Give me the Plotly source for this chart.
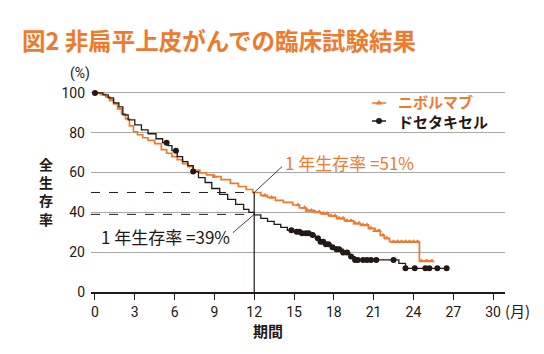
import numpy as np
import plotly.graph_objects as go

# ---- data ----
title_text = "図2 非扁平上皮がんでの臨床試験結果"
series_names = ["ニボルマブ", "ドセタキセル"]
x_ticks = [0, 3, 6, 9, 12, 15, 18, 21, 24, 27, 30]
y_ticks = [0, 20, 40, 60, 80, 100]

niv_time = [0, 0.4, 0.8, 1.1, 1.4, 1.7, 2.0, 2.3, 2.6, 2.9, 3.2, 3.6, 4.0, 4.5, 5.0, 5.4, 5.8,
            6.2, 6.6, 7.0, 7.4, 7.9, 8.4, 8.9, 9.5, 10.2, 10.8, 11.4, 11.9, 12.5, 13.0, 13.6,
            14.2, 14.9, 15.4, 15.9, 16.5, 17.0, 17.6, 18.2, 18.8, 19.5, 20.0, 20.6, 21.1, 21.5,
            21.8, 22.2, 24.45, 25.5]
niv_surv = [100, 99.3, 98, 96.5, 94.5, 92, 89.5, 87, 83.5, 80.5, 79, 77.5, 76.2, 74.5, 71.5, 69.7, 68,
            66.5, 64.5, 63, 61.3, 59.8, 58.8, 58, 56.5, 54.6, 53, 51.5, 50, 48.5, 47.5, 46,
            45, 43.7, 42.3, 41, 40.2, 39.5, 38.3, 37, 35.8, 34.5, 33.7, 32, 30.8, 28.5,
            27, 25.3, 15.6, 15.6]
niv_censor = [1.2, 9.0, 12.8, 13.3, 15.3, 15.8, 16.0, 16.3, 16.6, 16.9, 17.2, 17.5, 17.8, 18.1,
              18.4, 18.7, 19.0, 19.3, 19.6, 19.9, 20.2, 20.5, 20.8, 21.1, 21.4, 21.7, 22.0, 22.5,
              22.8, 23.1, 23.4, 23.7, 24.0, 24.3, 24.6, 25.0, 25.4]

doc_time = [0, 0.6, 1.0, 1.4, 1.8, 2.1, 2.5, 3.0, 3.5, 4.0, 4.6, 5.1, 5.5, 5.8, 6.2, 6.6, 7.0,
            7.4, 7.8, 8.3, 8.8, 9.4, 10.0, 10.6, 11.2, 11.6, 12.0, 12.5, 13.0, 13.5, 14.0, 14.5,
            15.0, 15.6, 16.2, 16.6, 16.9, 17.3, 17.8, 18.2, 18.7, 19.2, 19.6, 22.9, 23.4, 26.5]
doc_surv = [100, 99, 97.5, 95, 93, 89, 86.5, 84, 81.5, 79.5, 77, 75, 73.5, 71, 68, 65.5, 63.5,
            60.5, 57.5, 55, 52, 49, 46.5, 44, 41.5, 40, 38.7, 37, 35.5, 34, 32.5, 31,
            30.3, 29.5, 28.6, 27, 25.3, 24, 22.5, 21.5, 19.8, 17.8, 16.1, 14.4, 11.9, 11.9]
doc_censor = [0, 5.4, 6.1, 7.4, 14.8, 15.2, 15.4, 15.6, 15.9, 16.1, 16.4, 16.8, 17.0, 17.2, 17.4,
              17.6, 17.9, 18.2, 18.4, 18.7, 19.0, 19.3, 19.6, 19.8, 20.2, 20.5, 20.8, 21.2, 22.5,
              23.4, 24.1, 24.9, 25.2, 25.8, 26.5]

one_year = 12
niv_1y_line = 50
doc_1y_line = 39
niv_label = "1 年生存率 =51%"
doc_label = "1 年生存率 =39%"

ORANGE = "#EE7A2C"
BLACK = "#231815"
GRID = "#A8A8A8"


def step_lookup(times, surv, t):
    i = np.searchsorted(np.array(times), np.array(t), side="right") - 1
    return list(np.array(surv)[i])


W, H = 544, 354
ml, mr, mt, mb = 91, 39, 83, 62
pw, ph = W - ml - mr, H - mt - mb


def px(x):
    return (x - ml) / pw


def py(y):
    return (H - mb - y) / ph


fig = go.Figure()

# Nivolumab
fig.add_trace(go.Scatter(x=niv_time, y=niv_surv, mode="lines", line=dict(color=ORANGE, width=1.7, shape="hv"),
                         showlegend=False, hoverinfo="skip", cliponaxis=False))
fig.add_trace(go.Scatter(x=niv_censor, y=step_lookup(niv_time, niv_surv, niv_censor), mode="markers",
                         marker=dict(symbol="triangle-up", size=5, color=ORANGE),
                         showlegend=False, cliponaxis=False))
# Docetaxel
fig.add_trace(go.Scatter(x=doc_time, y=doc_surv, mode="lines", line=dict(color=BLACK, width=1.3, shape="hv"),
                         showlegend=False, hoverinfo="skip", cliponaxis=False))
fig.add_trace(go.Scatter(x=doc_censor, y=step_lookup(doc_time, doc_surv, doc_censor), mode="markers",
                         marker=dict(symbol="circle", size=6, color=BLACK),
                         showlegend=False, cliponaxis=False))

# legend key (drawn on a pixel-unit overlay axis)
leg_x0, leg_x1 = 372, 386
leg_rows = [103, 121]
leg_colors = [ORANGE, BLACK]
leg_symbols = ["triangle-up", "circle"]
for yrow, col, sym in zip(leg_rows, leg_colors, leg_symbols):
    yy = H - mb - yrow
    fig.add_trace(go.Scatter(x=[leg_x0 - ml, leg_x1 - ml], y=[yy, yy], xaxis="x2", yaxis="y2",
                             mode="lines", line=dict(color=col, width=1.5), showlegend=False, hoverinfo="skip"))
    fig.add_trace(go.Scatter(x=[(leg_x0 + leg_x1) / 2 - ml], y=[yy], xaxis="x2", yaxis="y2",
                             mode="markers", marker=dict(symbol=sym, size=6, color=col),
                             showlegend=False, hoverinfo="skip"))
legend_text = "<br>".join(f"<span style='color:{c}'><b>{n}</b></span>" for n, c in zip(series_names, leg_colors))
fig.add_annotation(xref="paper", yref="paper", x=px(396), y=py(sum(leg_rows) / 2), text=legend_text,
                   showarrow=False, xanchor="left", yanchor="middle", align="left",
                   font=dict(family="Noto Sans CJK JP", size=15, color=BLACK))

# reference lines
xmin = -0.3
fig.add_shape(type="line", x0=xmin, x1=one_year, y0=niv_1y_line, y1=niv_1y_line,
              line=dict(color=BLACK, width=1, dash="dash"))
fig.add_shape(type="line", x0=xmin, x1=one_year, y0=doc_1y_line, y1=doc_1y_line,
              line=dict(color=BLACK, width=1, dash="dash"))
fig.add_shape(type="line", x0=one_year, x1=one_year, y0=0, y1=niv_1y_line,
              line=dict(color=BLACK, width=1.2))
# leader lines
fig.add_shape(type="line", x0=one_year, x1=14.1, y0=niv_1y_line, y1=63,
              line=dict(color="#444444", width=1))
fig.add_shape(type="line", x0=one_year, x1=10.4, y0=doc_1y_line, y1=29.8,
              line=dict(color="#444444", width=1))

fig.add_annotation(x=19.2, y=65, text=niv_label, showarrow=False,
                   font=dict(family="Noto Sans CJK JP", size=17, color=ORANGE), xanchor="center", yanchor="middle")
fig.add_annotation(x=5.3, y=28, text=doc_label, showarrow=False,
                   font=dict(family="Noto Sans CJK JP", size=17, color=BLACK), xanchor="center", yanchor="middle")

# title and axis labels
fig.add_annotation(xref="paper", yref="paper", x=px(20), y=py(40), text=f"<b>{title_text}</b>", showarrow=False,
                   xanchor="left", yanchor="middle",
                   font=dict(family="Noto Sans CJK JP", size=23.5, color=ORANGE))
fig.add_annotation(xref="paper", yref="paper", x=px(80), y=py(73), text="(%)", showarrow=False,
                   xanchor="center", yanchor="middle", font=dict(family="Roboto", size=14, color=BLACK))
fig.add_annotation(xref="paper", yref="paper", x=px(46), y=py(191), text="<b>全<br>生<br>存<br>率</b>",
                   showarrow=False, xanchor="center", yanchor="middle",
                   font=dict(family="Noto Sans CJK JP", size=14, color=BLACK))
fig.add_annotation(xref="paper", yref="paper", x=px(503), y=py(310), text="(月)", showarrow=False,
                   xanchor="left", yanchor="middle", font=dict(family="Noto Sans CJK JP", size=15, color=BLACK))
fig.add_annotation(xref="paper", yref="paper", x=px(268), y=py(330), text="<b>期間</b>", showarrow=False,
                   xanchor="center", yanchor="middle", font=dict(family="Noto Sans CJK JP", size=15, color=BLACK))

fig.update_layout(
    width=W, height=H,
    margin=dict(l=ml, r=mr, t=mt, b=mb),
    paper_bgcolor="white", plot_bgcolor="white",
    font=dict(family="Roboto", color=BLACK),
    showlegend=False,
    xaxis=dict(range=[xmin, 30.9], tickvals=x_ticks, ticks="outside", ticklen=6, tickwidth=1.2,
               tickcolor=BLACK, showline=True, linecolor=BLACK, linewidth=1.5, showgrid=False,
               zeroline=False, tickfont=dict(family="Roboto", size=14, color=BLACK)),
    yaxis=dict(range=[0, 105], tickvals=y_ticks, showgrid=True, gridcolor=GRID, gridwidth=1,
               zeroline=False, showline=False, ticks="", ticklabelstandoff=5,
               tickfont=dict(family="Roboto", size=14, color=BLACK)),
    xaxis2=dict(overlaying="x", range=[0, pw], visible=False, fixedrange=True),
    yaxis2=dict(overlaying="y", range=[0, ph], visible=False, fixedrange=True),
)

fig.write_html("out.html")
